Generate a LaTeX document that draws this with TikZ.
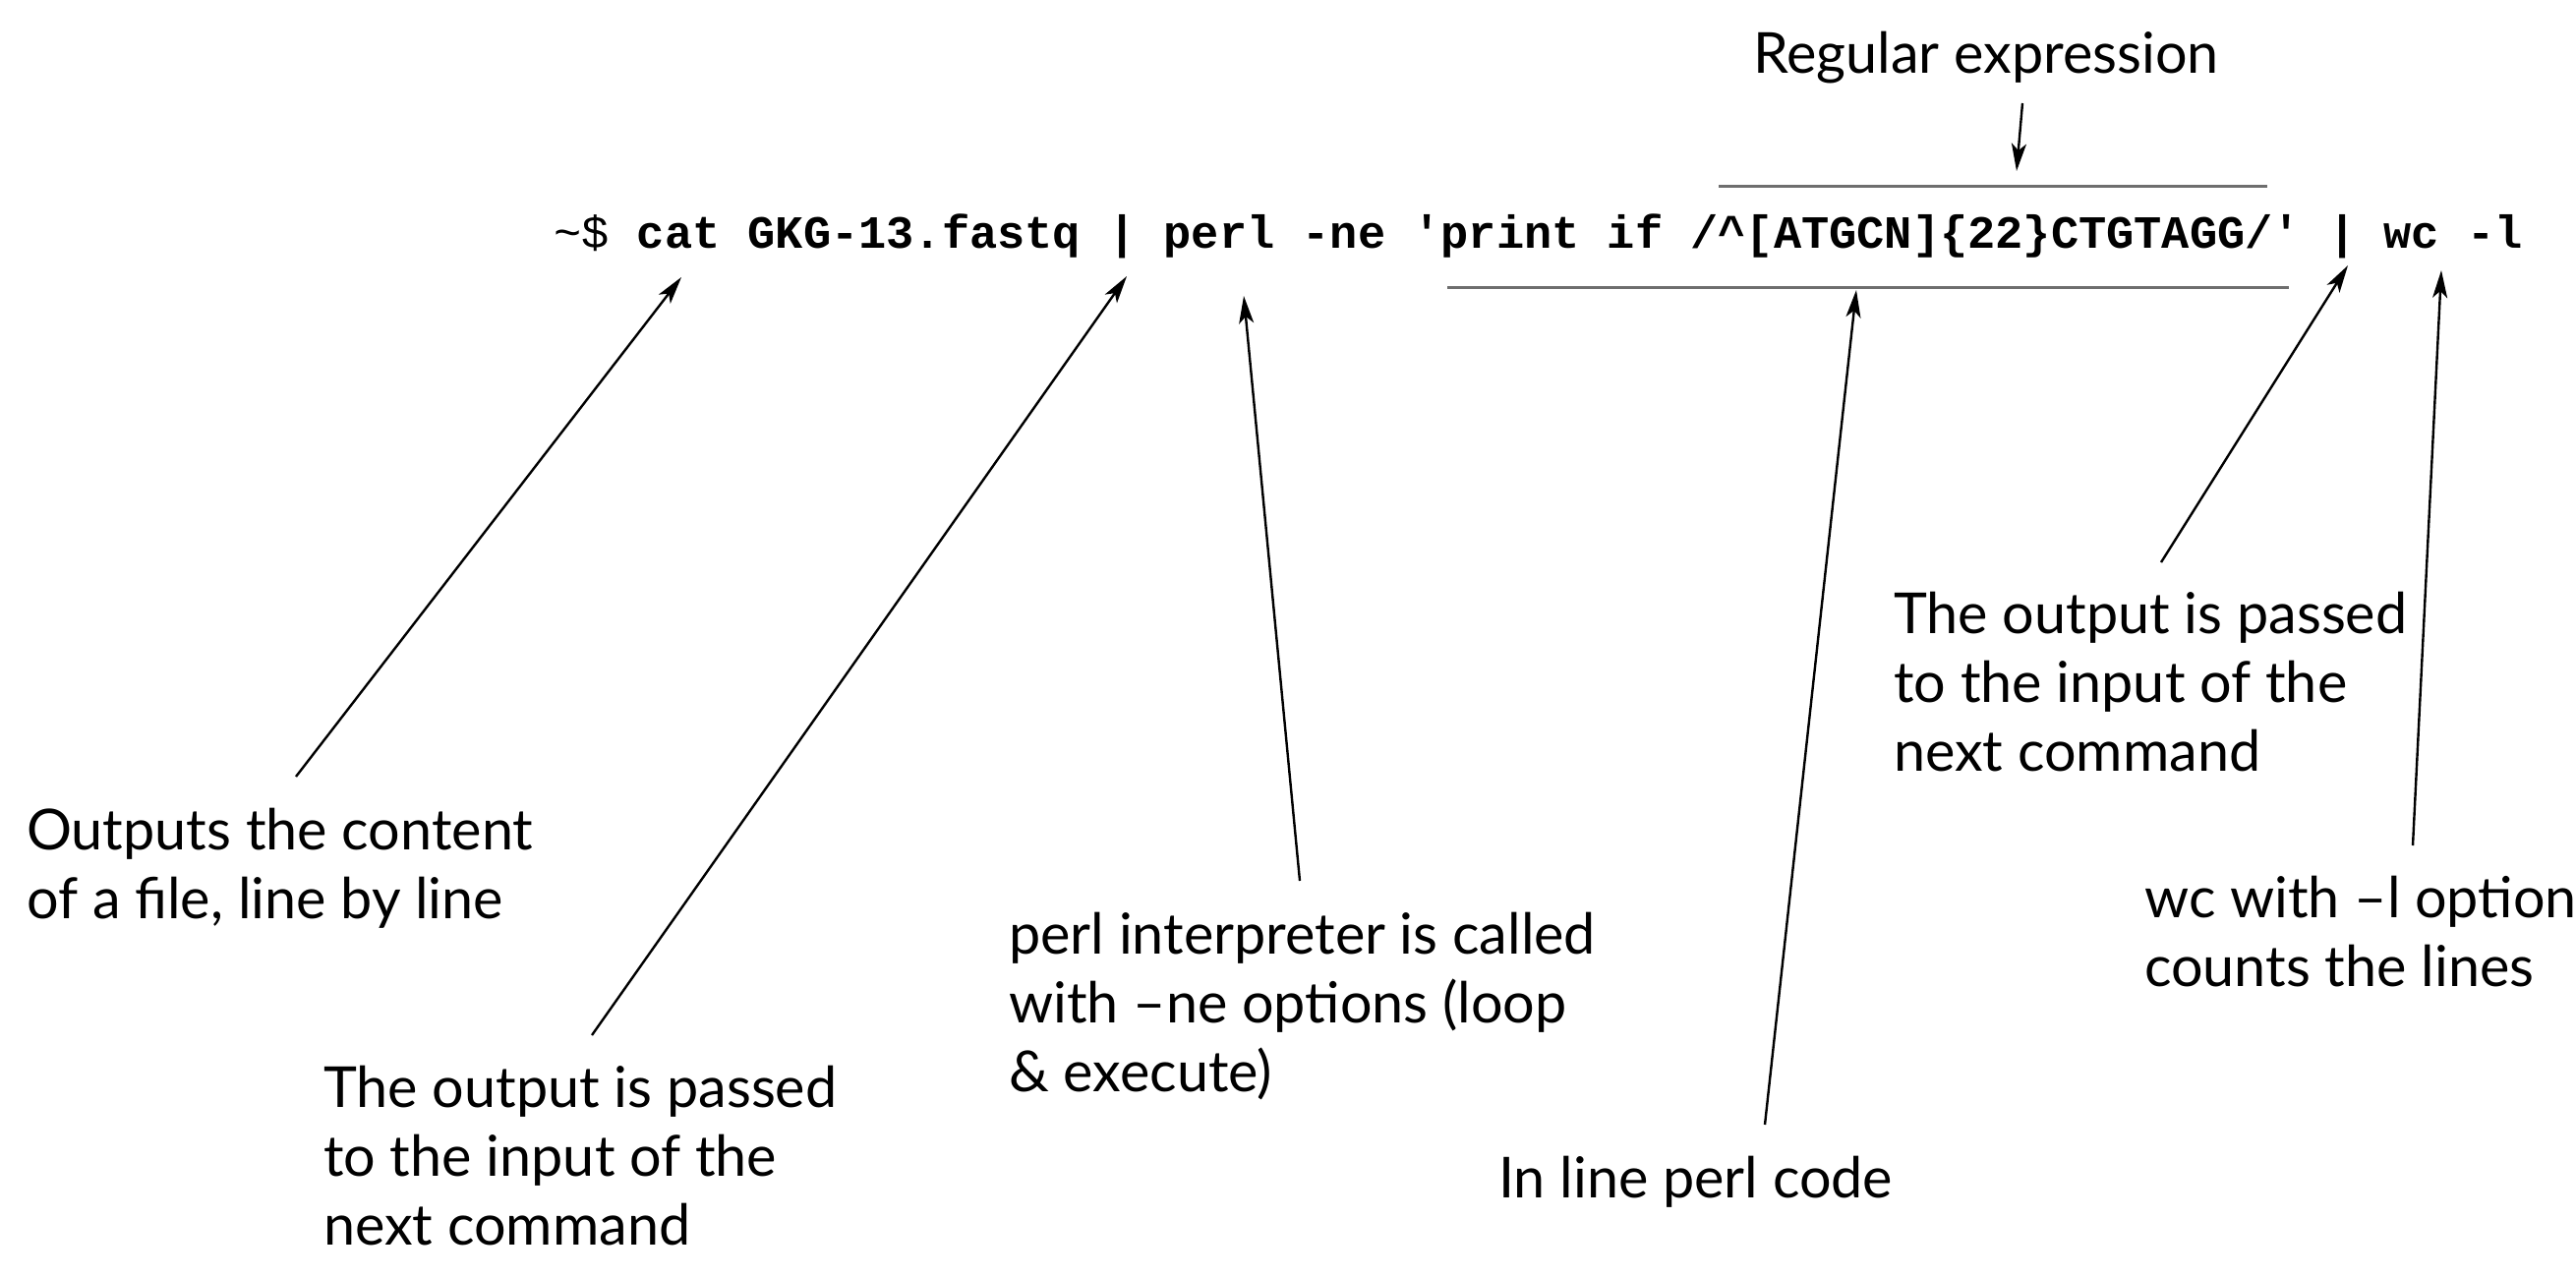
\documentclass[tikz,border=0pt]{standalone}
\usepackage{fontspec}
\setmainfont{Lato}
\newfontfamily\cmdfont[Ligatures=TeXOff]{Liberation Mono}
\usetikzlibrary{arrows.meta}
\definecolor{rulegray}{HTML}{6E6E6E}
\tikzset{
  lbl/.style={anchor=base west, inner sep=0pt, font=\fontsize{57.5}{70}\selectfont},
  callout/.style={line width=2.4pt, -{Stealth[length=28pt,width=15pt,inset=7pt]}},
  underline/.style={line width=3pt, draw=rulegray},
}
\newcommand{\lines}[1]{\begin{tabular}[t]{@{}l@{}}#1\end{tabular}}
\begin{document}
\begin{tikzpicture}[x=1pt,y=-1pt]
\useasboundingbox (0,0) rectangle (2620,1300);
% command line
\node[anchor=base west, inner sep=0pt, font=\cmdfont\fontsize{47}{56}\selectfont] (cmd) at (563,252)
  {\textasciitilde\$ \textbf{cat GKG-13.fastq | perl -ne 'print if /\textasciicircum[ATGCN]\{22\}CTGTAGG/' | wc -l}};
% labels
\node[lbl] (regex) at (1783,75) {Regular expression};
\node[lbl] (lcat) at (27,864) {\lines{Outputs the content\\of a file, line by line}};
\node[lbl] (lpipe1) at (329,1126) {\lines{The output is passed\\to the input of the\\next command}};
\node[lbl] (lperl) at (1026,970) {\lines{perl interpreter is called\\with –ne options (loop\\\& execute)}};
\node[lbl] (lcode) at (1524,1218) {In line perl code};
\node[lbl] (lpipe2) at (1926,644) {\lines{The output is passed\\to the input of the\\next command}};
\node[lbl] (lwc) at (2181,933) {\lines{wc with –l option\\counts the lines}};
% rules around code
\coordinate (ta) at (1748,190); \coordinate (tb) at (2306,190);
\coordinate (ba) at (1472,292); \coordinate (bb) at (2328,292);
\draw[underline] (ta) -- (tb);
\draw[underline] (ba) -- (bb);
% arrow endpoints
\coordinate (a0) at (301,790);  \coordinate (a1) at (693,282);
\coordinate (b0) at (602,1053); \coordinate (b1) at (1146,281);
\coordinate (c0) at (1322,896); \coordinate (c1) at (1265,301);
\coordinate (d0) at (1795,1144);\coordinate (d1) at (1888,295);
\coordinate (e0) at (2198,572); \coordinate (e1) at (2388,270);
\coordinate (f0) at (2454,860); \coordinate (f1) at (2483,275);
\coordinate (g0) at (2057,105); \coordinate (g1) at (2051,174);
\draw[callout] (a0) -- (a1);
\draw[callout] (b0) -- (b1);
\draw[callout] (c0) -- (c1);
\draw[callout] (d0) -- (d1);
\draw[callout] (e0) -- (e1);
\draw[callout] (f0) -- (f1);
\draw[callout] (g0) -- (g1);
\end{tikzpicture}
\end{document}
